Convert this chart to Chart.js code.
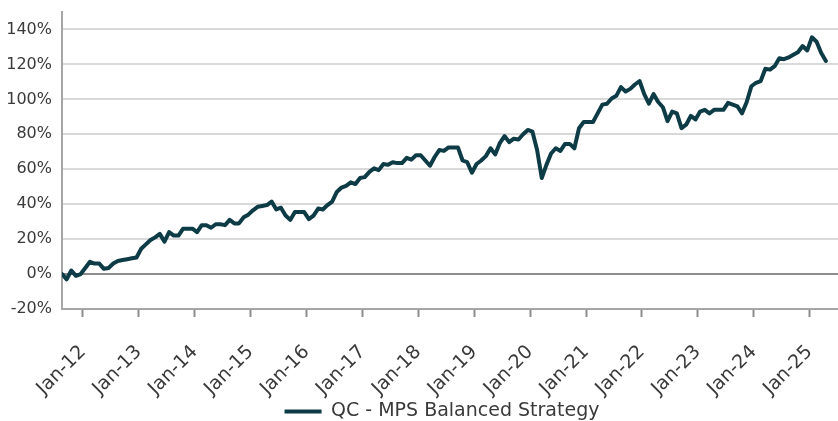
<!DOCTYPE html>
<html>
<head>
  <meta charset="utf-8">
  <script src="https://cdn.jsdelivr.net/npm/chart.js@4.4.1/dist/chart.umd.min.js"></script>
  <style>
    * { margin: 0; padding: 0; box-sizing: border-box; }
    body { background: #ffffff; width: 838px; height: 421px; overflow: hidden; }
    canvas { display: block; }
  </style>
</head>
<body>
  <canvas id="chart" width="838" height="421"></canvas>
  <script>
    // Monthly cumulative return (%), Aug-11 .. Apr-25
    const startYear = 2011;
    const startMonth = 7; // August (0-based)
    const monthNames = ['Jan', 'Feb', 'Mar', 'Apr', 'May', 'Jun', 'Jul', 'Aug', 'Sep', 'Oct', 'Nov', 'Dec'];

    const balanced = [
      0, -3, 2, -1, 0, 3.5, 7, 6, 6, 3, 3.5, 6, 7.5, 8, 8.5, 9, 9.5, 14.5, 17, 19.5,
      21, 23, 18.5, 24, 22, 22, 26, 26, 26, 24, 28, 28, 26.5, 28.5, 28.5, 28, 31, 29, 29, 32.5,
      34, 36.5, 38.5, 39, 39.5, 41.5, 37, 38, 33.5, 31, 35.5, 35.5, 35.5, 31.5, 33.5, 37.5, 37, 39.5, 41.5, 47,
      49.5, 50.5, 52.5, 51.5, 55, 55.5, 58.5, 60.5, 59.5, 63, 62.5, 64, 63.5, 63.5, 66.5, 65.5, 68, 68, 65, 62,
      67, 71, 70.5, 72.5, 72.5, 72.5, 65, 64, 58, 63, 65, 67.5, 72, 68.5, 75, 79, 75.5, 77.5, 77, 80,
      82.5, 81.5, 71, 55, 62.5, 69, 72, 70.5, 74.5, 74.5, 72, 83.5, 87, 87, 87, 92, 97, 97.5, 100.5, 102,
      107, 104.5, 106, 108.5, 110.5, 103, 97.5, 103, 98.5, 95.5, 87.5, 93, 92, 83.5, 85.5, 90.5, 88.5, 93, 94, 92,
      94, 94, 94, 98, 97, 96, 92, 98.5, 107.5, 109.5, 110.5, 117.5, 117, 119, 123.5, 123, 124, 125.5, 127, 130.5,
      128, 135.5, 133, 126.5, 122
    ];

    const months = balanced.map((_, i) => {
      const m = (startMonth + i) % 12;
      const y = startYear + Math.floor((startMonth + i) / 12);
      return monthNames[m] + '-' + String(y).slice(2);
    });

    const yearTicks = ['Jan-12', 'Jan-13', 'Jan-14', 'Jan-15', 'Jan-16', 'Jan-17', 'Jan-18',
      'Jan-19', 'Jan-20', 'Jan-21', 'Jan-22', 'Jan-23', 'Jan-24', 'Jan-25'];
    const yTicks = [-20, 0, 20, 40, 60, 80, 100, 120, 140];

    const seriesName = 'QC - MPS Balanced Strategy';
    const lineColor = '#0d3c46';
    const textColor = '#3a3a3a';
    const fontFamily = '"DejaVu Sans", sans-serif';

    // nudge the legend a little left, like the original
    const legendShift = {
      id: 'legendShift',
      afterLayout(chart) {
        chart.legend.left -= 8;
        chart.legend.right -= 8;
      }
    };

    new Chart(document.getElementById('chart'), {
      type: 'line',
      data: {
        datasets: [{
          label: seriesName,
          data: balanced.map((v, i) => ({ x: i, y: v })),
          borderColor: lineColor,
          backgroundColor: lineColor,
          borderWidth: 4,
          borderJoinStyle: 'round',
          borderCapStyle: 'round',
          pointRadius: 0,
          tension: 0
        }]
      },
      plugins: [legendShift],
      options: {
        responsive: false,
        animation: false,
        devicePixelRatio: 1,
        layout: { padding: { top: 12, right: 0, bottom: -10, left: 0 } },
        plugins: {
          tooltip: { enabled: false },
          legend: {
            position: 'bottom',
            fullSize: false,
            labels: {
              usePointStyle: true,
              pointStyle: 'line',
              pointStyleWidth: 37,
              color: textColor,
              font: { family: fontFamily, size: 19 },
              padding: 0
            }
          }
        },
        scales: {
          x: {
            type: 'linear',
            min: 0,
            max: 166.6,
            afterFit: (scale) => {
              scale.height = 93;
              scale.paddingLeft = 0;
              scale.paddingRight = 0;
            },
            afterBuildTicks: (scale) => {
              scale.ticks = yearTicks.map(t => ({ value: months.indexOf(t) - 0.5 }));
            },
            ticks: {
              autoSkip: false,
              minRotation: 45,
              maxRotation: 45,
              padding: 24,
              color: textColor,
              font: { family: fontFamily, size: 19 },
              callback: (v) => months[Math.round(v + 0.5)]
            },
            grid: {
              drawOnChartArea: false,
              drawTicks: true,
              tickLength: 8,
              tickWidth: 2,
              tickColor: '#8c8c8c'
            },
            border: { display: true, color: '#a6a6a6', width: 2 }
          },
          y: {
            min: -20,
            max: 150,
            afterFit: (scale) => {
              scale.width = 62;
              scale.paddingTop = 0;
              scale.paddingBottom = 0;
            },
            afterBuildTicks: (scale) => {
              scale.ticks = yTicks.map(v => ({ value: v }));
            },
            ticks: {
              padding: 10,
              color: textColor,
              font: { family: fontFamily, size: 16 },
              callback: (v) => v + '%'
            },
            grid: {
              drawTicks: false,
              lineWidth: 2,
              color: (ctx) => ctx.tick && ctx.tick.value === 0 ? '#8c8c8c' : '#d9d9d9'
            },
            border: { display: true, color: '#a6a6a6', width: 2 }
          }
        }
      }
    });
  </script>
</body>
</html>
